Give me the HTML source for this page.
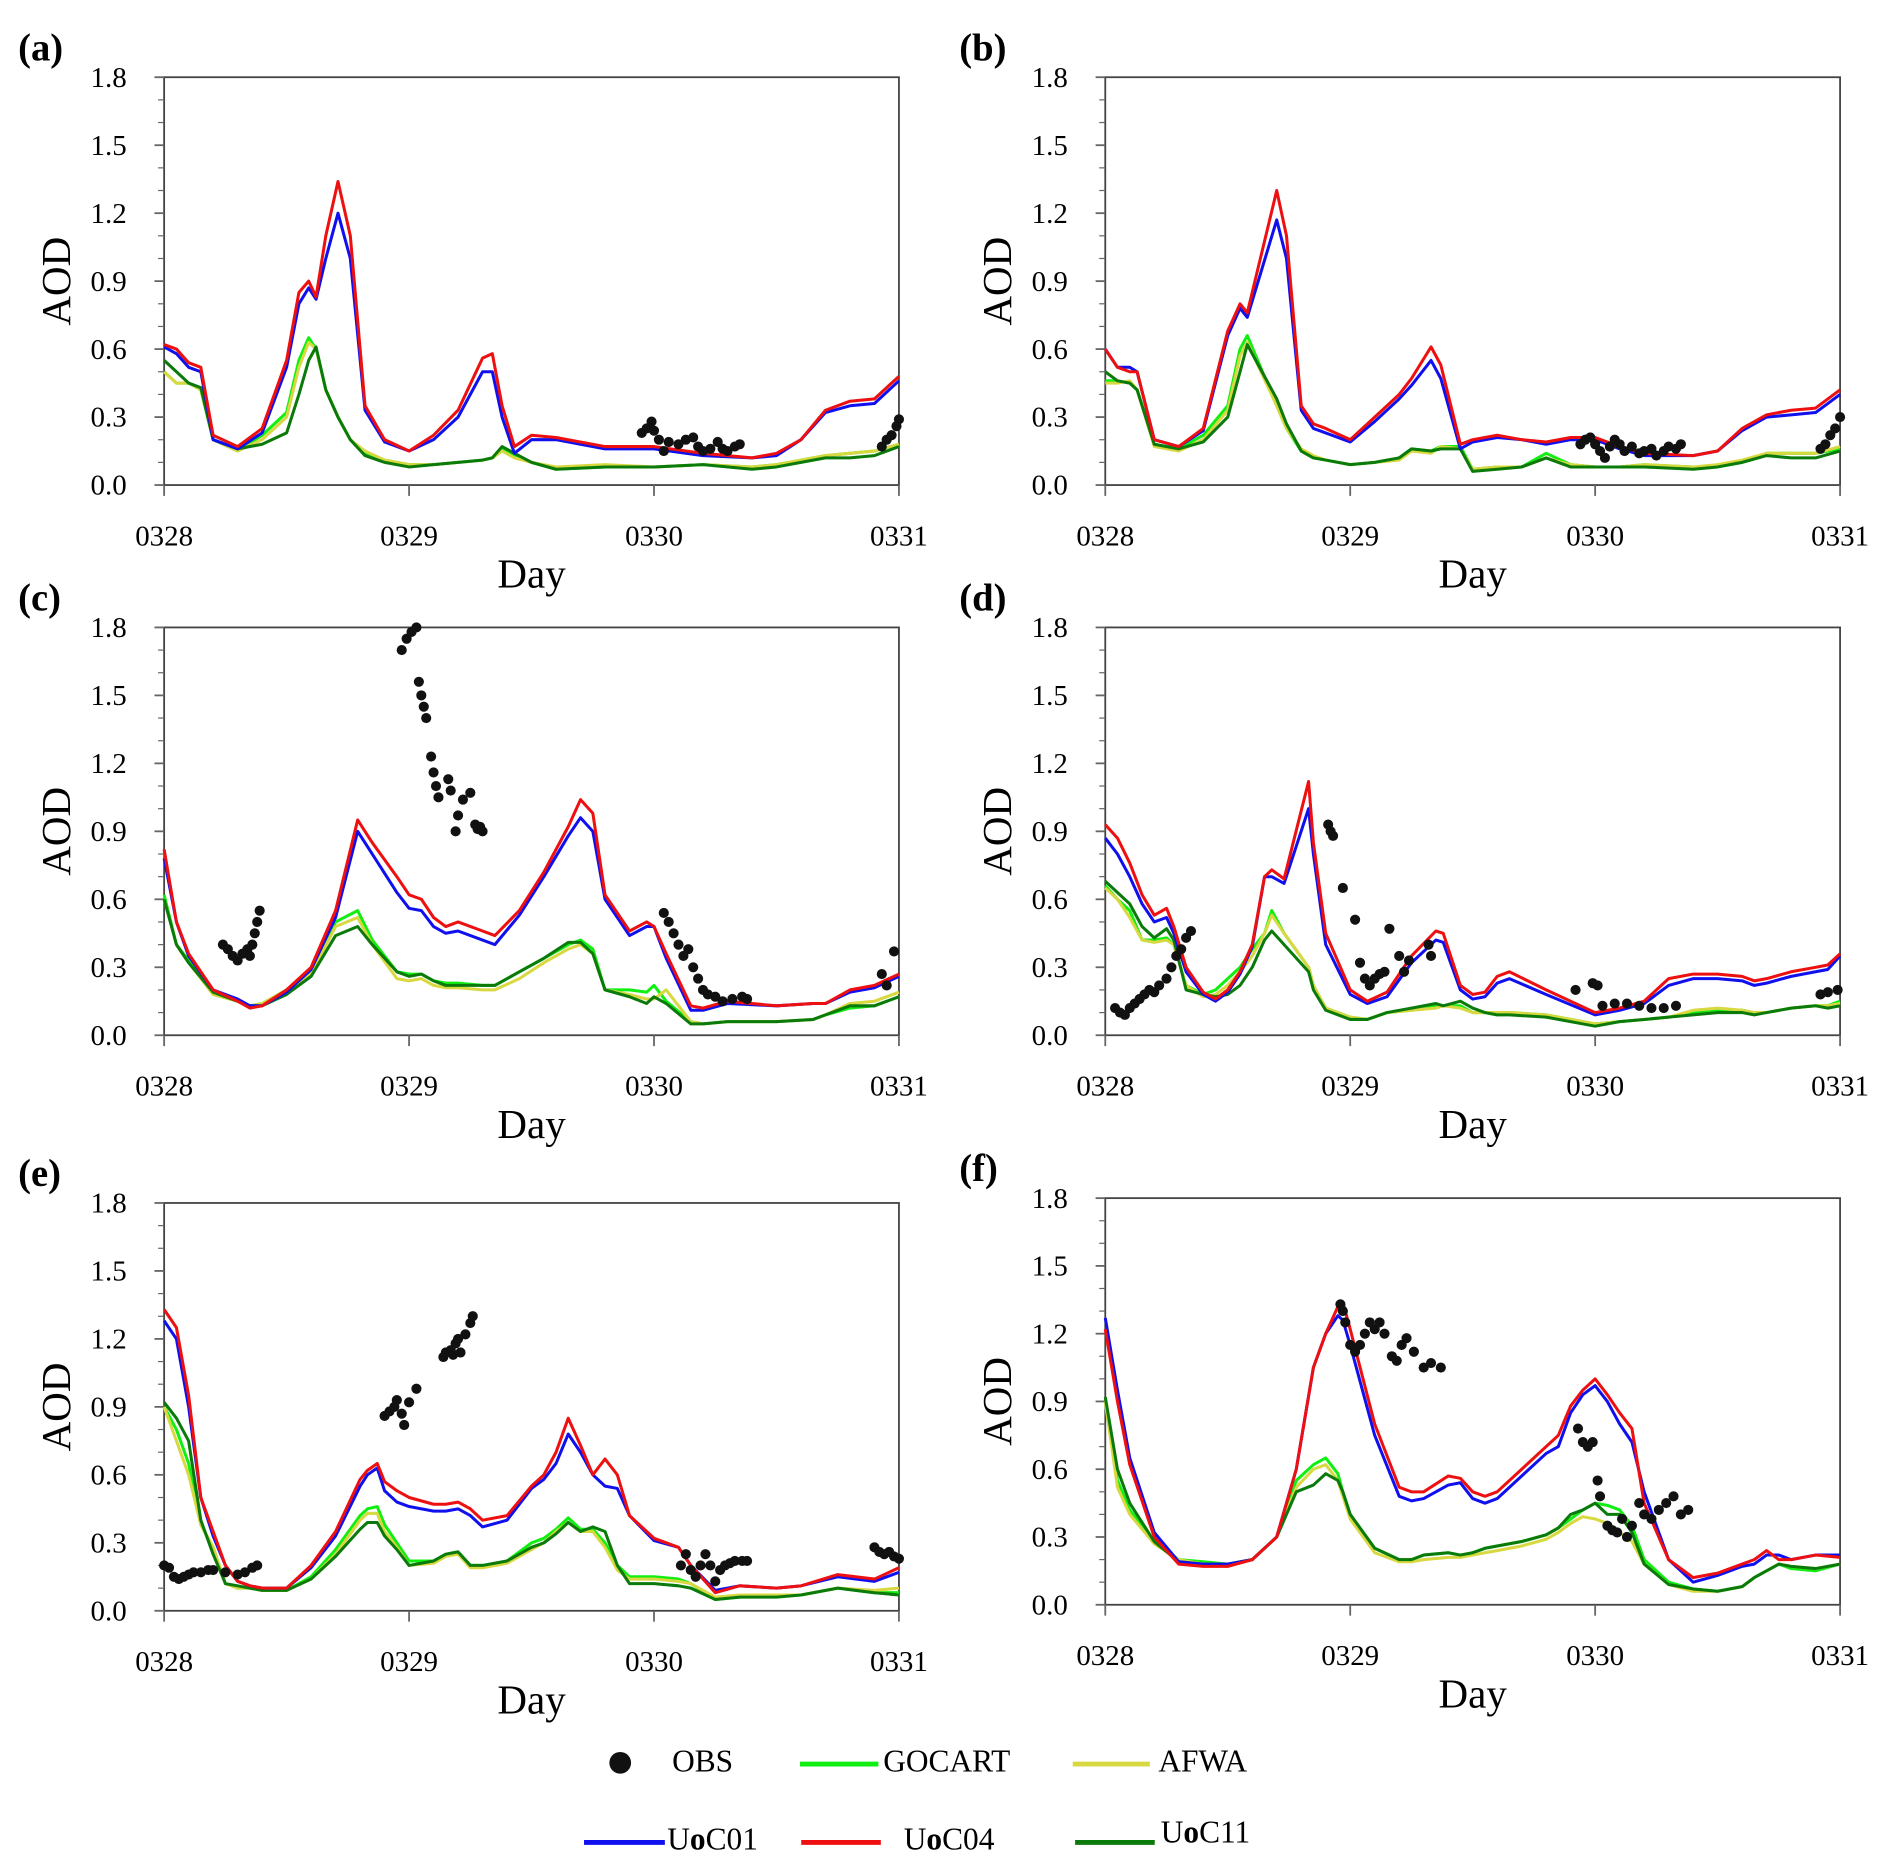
<!DOCTYPE html>
<html><head><meta charset="utf-8"><style>
html,body{margin:0;padding:0;background:#fff}
svg{display:block}
text{font-family:"Liberation Serif","DejaVu Serif",serif;fill:#000}
</style></head><body>
<svg id="fig" width="1892" height="1869" viewBox="0 0 1568 1549" xmlns="http://www.w3.org/2000/svg">
<g id="panels"></g>
<g id="legend">
  <circle cx="514" cy="1461" r="9" fill="#111"/>
  <text x="557" y="1468" font-size="26">OBS</text>
  <line x1="663" y1="1462" x2="728" y2="1462" stroke="#11ee11" stroke-width="4"/>
  <text x="732" y="1468" font-size="26">GOCART</text>
  <line x1="889" y1="1462" x2="953" y2="1462" stroke="#d8d840" stroke-width="4"/>
  <text x="960" y="1468" font-size="26">AFWA</text>
  <line x1="484" y1="1527" x2="551" y2="1527" stroke="#1010ee" stroke-width="4"/>
  <text x="553" y="1533" font-size="26">U<tspan font-weight="bold">o</tspan>C01</text>
  <line x1="664" y1="1527" x2="730" y2="1527" stroke="#ee1010" stroke-width="4"/>
  <text x="749" y="1533" font-size="26">U<tspan font-weight="bold">o</tspan>C04</text>
  <line x1="891" y1="1527" x2="957" y2="1527" stroke="#0a7a0a" stroke-width="4"/>
  <text x="962" y="1527" font-size="26">U<tspan font-weight="bold">o</tspan>C11</text>
</g>
</svg>
<script>
const yTicks=[0,0.3,0.6,0.9,1.2,1.5,1.8];
const yTickLabels=["0.0","0.3","0.6","0.9","1.2","1.5","1.8"];
const xTicks=[0,1,2,3];
const xTickLabels=["0328","0329","0330","0331"];
const panelLabels=["(a)","(b)","(c)","(d)","(e)","(f)"];

const tA=[0,.05,.1,.15,.2,.3,.4,.5,.55,.59,.62,.66,.71,.76,.82,.9,1.0,1.1,1.2,1.3,1.34,1.38,1.43,1.5,1.6,1.8,2.0,2.2,2.4,2.5,2.6,2.7,2.8,2.9,3.0];
const uoc04A=[.62,.6,.54,.52,.22,.17,.25,.55,.85,.9,.83,1.1,1.34,1.1,.35,.2,.15,.22,.33,.56,.58,.35,.17,.22,.21,.17,.17,.14,.12,.14,.2,.33,.37,.38,.48];
const uoc01A=[.61,.58,.52,.5,.2,.16,.23,.52,.8,.87,.82,1.0,1.2,1.0,.33,.19,.15,.2,.3,.5,.5,.3,.14,.2,.2,.16,.16,.13,.12,.13,.2,.32,.35,.36,.46];
const gocartA=[.5,.45,.45,.42,.2,.15,.22,.32,.55,.65,.6,.42,.3,.2,.14,.11,.09,.09,.1,.11,.12,.16,.13,.1,.07,.08,.08,.09,.08,.09,.11,.13,.14,.15,.18];
const afwaA=[.5,.45,.45,.42,.2,.15,.2,.3,.52,.63,.6,.42,.3,.2,.15,.11,.09,.09,.1,.11,.12,.15,.12,.1,.08,.09,.08,.09,.08,.09,.11,.13,.14,.15,.18];
const uoc11A=[.55,.5,.45,.43,.2,.16,.18,.23,.4,.55,.61,.42,.3,.2,.13,.1,.08,.09,.1,.11,.12,.17,.14,.1,.07,.08,.08,.09,.07,.08,.1,.12,.12,.13,.17];
const obsTA=[1.95,1.97,1.99,2.0,2.02,2.04,2.06,2.1,2.13,2.16,2.18,2.2,2.23,2.26,2.28,2.3,2.33,2.35,2.93,2.95,2.97,2.99,3.0];
const obsVA=[.23,.25,.28,.24,.2,.15,.19,.18,.2,.21,.17,.15,.16,.19,.16,.15,.17,.18,.17,.2,.22,.26,.29];

const tB=[0,.05,.1,.13,.2,.3,.4,.5,.55,.58,.7,.74,.8,.85,.9,1.0,1.1,1.2,1.25,1.33,1.37,1.45,1.5,1.6,1.7,1.8,1.9,2.0,2.1,2.2,2.4,2.5,2.6,2.7,2.8,2.9,3.0];
const uoc04B=[.6,.52,.5,.5,.2,.17,.25,.68,.8,.76,1.3,1.1,.35,.27,.25,.2,.3,.4,.47,.61,.53,.18,.2,.22,.2,.19,.21,.21,.17,.14,.13,.15,.25,.31,.33,.34,.42];
const uoc01B=[.6,.52,.52,.5,.2,.17,.24,.66,.78,.74,1.17,1.0,.33,.25,.23,.19,.28,.38,.44,.55,.47,.16,.19,.21,.2,.18,.2,.2,.16,.13,.13,.15,.24,.3,.31,.32,.4];
const gocartB=[.46,.46,.45,.42,.18,.16,.22,.35,.6,.66,.35,.25,.15,.12,.11,.09,.1,.12,.16,.15,.17,.17,.07,.08,.08,.14,.09,.08,.08,.09,.08,.08,.1,.14,.14,.14,.16];
const afwaB=[.45,.45,.46,.42,.17,.15,.2,.33,.57,.63,.35,.25,.16,.13,.11,.09,.1,.11,.15,.14,.17,.16,.07,.08,.08,.12,.09,.08,.08,.09,.08,.09,.11,.14,.14,.14,.17];
const uoc11B=[.5,.46,.45,.42,.18,.16,.19,.3,.5,.62,.38,.27,.15,.12,.11,.09,.1,.12,.16,.15,.16,.16,.06,.07,.08,.12,.08,.08,.08,.08,.07,.08,.1,.13,.12,.12,.15];
const obsTB=[1.94,1.96,1.98,2.0,2.02,2.04,2.06,2.08,2.1,2.12,2.15,2.18,2.2,2.23,2.25,2.28,2.3,2.33,2.35,2.92,2.94,2.96,2.98,3.0];
const obsVB=[.18,.2,.21,.18,.15,.12,.17,.2,.18,.15,.17,.14,.15,.16,.13,.15,.17,.16,.18,.16,.18,.22,.25,.3];

const tC=[0,.05,.1,.2,.3,.35,.4,.5,.6,.7,.79,.85,.95,1.0,1.05,1.1,1.15,1.2,1.3,1.35,1.45,1.55,1.65,1.7,1.75,1.8,1.9,1.97,2.0,2.05,2.15,2.2,2.3,2.5,2.65,2.7,2.8,2.9,3.0];
const uoc04C=[.82,.5,.36,.2,.15,.12,.13,.2,.3,.55,.95,.85,.7,.62,.6,.52,.48,.5,.46,.44,.55,.72,.92,1.04,.98,.62,.46,.5,.48,.36,.13,.12,.15,.13,.14,.14,.2,.22,.27];
const uoc01C=[.78,.5,.35,.2,.16,.13,.13,.19,.29,.52,.9,.8,.63,.56,.55,.48,.45,.46,.42,.4,.53,.7,.88,.96,.9,.6,.44,.48,.48,.34,.11,.11,.14,.13,.14,.14,.19,.21,.26];
const gocartC=[.62,.4,.33,.18,.15,.13,.14,.2,.28,.5,.55,.42,.28,.27,.27,.24,.23,.23,.22,.22,.28,.34,.4,.42,.38,.2,.2,.19,.22,.15,.06,.05,.06,.06,.07,.09,.12,.13,.17];
const afwaC=[.6,.4,.32,.18,.15,.13,.14,.2,.27,.48,.52,.4,.25,.24,.25,.22,.21,.21,.2,.2,.25,.32,.38,.4,.36,.2,.18,.16,.16,.2,.06,.05,.06,.06,.07,.09,.14,.15,.19];
const uoc11C=[.6,.4,.32,.19,.15,.13,.13,.18,.26,.44,.48,.4,.28,.26,.27,.24,.22,.22,.22,.22,.28,.34,.41,.41,.36,.2,.17,.14,.17,.14,.05,.05,.06,.06,.07,.09,.13,.13,.17];
const obsTC=[.24,.26,.28,.3,.32,.34,.35,.36,.37,.38,.39,.97,.99,1.01,1.03,1.04,1.05,1.06,1.07,1.09,1.1,1.11,1.12,1.16,1.17,1.19,1.2,1.22,1.25,1.27,1.28,1.29,1.3,2.04,2.06,2.08,2.1,2.12,2.14,2.16,2.18,2.2,2.22,2.25,2.28,2.32,2.36,2.38,2.93,2.95,2.98];
const obsVC=[.4,.38,.35,.33,.36,.38,.35,.4,.45,.5,.55,1.7,1.75,1.78,1.8,1.56,1.5,1.45,1.4,1.23,1.16,1.1,1.05,1.13,1.08,.9,.97,1.04,1.07,.93,.91,.92,.9,.54,.5,.45,.4,.35,.38,.3,.25,.2,.18,.17,.15,.16,.17,.16,.27,.22,.37];

const tD=[0,.05,.1,.15,.2,.25,.28,.33,.4,.45,.5,.55,.6,.65,.68,.73,.83,.85,.9,1.0,1.07,1.15,1.25,1.35,1.38,1.45,1.5,1.55,1.6,1.65,1.8,2.0,2.1,2.2,2.3,2.4,2.5,2.6,2.65,2.7,2.8,2.9,2.95,3.0];
const uoc04D=[.93,.87,.76,.62,.53,.56,.48,.3,.19,.16,.2,.28,.4,.7,.73,.69,1.12,.85,.45,.2,.15,.19,.35,.46,.45,.22,.18,.19,.26,.28,.2,.1,.12,.15,.25,.27,.27,.26,.24,.25,.28,.3,.31,.36];
const uoc01D=[.87,.8,.7,.58,.5,.52,.45,.28,.18,.15,.19,.27,.39,.7,.7,.67,1.0,.8,.4,.18,.14,.17,.32,.42,.41,.2,.16,.17,.23,.25,.18,.09,.11,.14,.22,.25,.25,.24,.22,.23,.26,.28,.29,.35];
const gocartD=[.66,.6,.55,.42,.42,.43,.4,.22,.18,.2,.25,.3,.38,.45,.55,.45,.3,.22,.12,.08,.07,.1,.11,.13,.13,.13,.1,.1,.09,.1,.09,.05,.06,.07,.08,.1,.11,.11,.1,.1,.12,.13,.13,.15];
const afwaD=[.65,.6,.52,.42,.41,.42,.4,.22,.17,.18,.22,.28,.35,.45,.53,.45,.3,.22,.12,.08,.07,.1,.11,.12,.13,.12,.1,.1,.1,.1,.09,.05,.06,.07,.08,.11,.12,.11,.1,.1,.12,.13,.13,.14];
const uoc11D=[.68,.63,.58,.48,.43,.47,.42,.2,.18,.17,.18,.22,.3,.42,.46,.4,.28,.2,.11,.07,.07,.1,.12,.14,.13,.15,.12,.1,.09,.09,.08,.04,.06,.07,.08,.09,.1,.1,.09,.1,.12,.13,.12,.13];
const obsTD=[.04,.06,.08,.1,.12,.14,.16,.18,.2,.22,.25,.27,.29,.31,.33,.35,.91,.92,.93,.97,1.02,1.04,1.06,1.08,1.1,1.12,1.14,1.16,1.2,1.22,1.24,1.32,1.33,1.92,1.99,2.01,2.03,2.08,2.13,2.18,2.23,2.28,2.33,2.92,2.95,2.99];
const obsVD=[.12,.1,.09,.12,.14,.16,.18,.2,.19,.22,.25,.3,.35,.38,.43,.46,.93,.9,.88,.65,.51,.32,.25,.22,.25,.27,.28,.47,.35,.28,.33,.4,.35,.2,.23,.22,.13,.14,.14,.13,.12,.12,.13,.18,.19,.2];

const tE=[0,.05,.1,.15,.2,.25,.3,.35,.4,.5,.6,.7,.8,.83,.87,.9,.95,1.0,1.1,1.15,1.2,1.25,1.3,1.4,1.5,1.55,1.6,1.65,1.7,1.75,1.8,1.85,1.9,2.0,2.1,2.15,2.25,2.35,2.5,2.6,2.75,2.9,3.0];
const uoc04E=[1.33,1.25,.95,.5,.35,.2,.13,.11,.1,.1,.2,.35,.58,.62,.65,.57,.53,.5,.47,.47,.48,.45,.4,.42,.55,.6,.7,.85,.73,.6,.67,.6,.42,.32,.28,.2,.08,.11,.1,.11,.16,.14,.19];
const uoc01E=[1.28,1.2,.9,.5,.33,.2,.13,.11,.1,.1,.19,.33,.55,.6,.63,.53,.48,.46,.44,.44,.45,.42,.37,.4,.54,.58,.65,.78,.7,.6,.55,.54,.42,.31,.28,.2,.09,.11,.1,.11,.15,.13,.17];
const gocartE=[.9,.8,.65,.38,.28,.12,.1,.1,.09,.09,.15,.27,.42,.45,.46,.38,.3,.22,.22,.25,.26,.2,.2,.22,.3,.32,.36,.41,.36,.36,.3,.2,.15,.15,.14,.12,.05,.06,.07,.07,.1,.08,.08];
const afwaE=[.9,.75,.6,.38,.28,.12,.1,.1,.09,.09,.14,.25,.4,.43,.43,.35,.28,.2,.21,.24,.25,.19,.19,.21,.27,.3,.35,.39,.35,.35,.28,.18,.14,.14,.13,.12,.06,.07,.07,.07,.1,.09,.1];
const uoc11E=[.92,.85,.75,.4,.25,.12,.11,.1,.09,.09,.14,.24,.36,.39,.39,.33,.27,.2,.22,.25,.26,.2,.2,.22,.28,.3,.34,.39,.35,.37,.35,.2,.12,.12,.11,.1,.05,.06,.06,.07,.1,.08,.07];
const obsTE=[0,.02,.04,.06,.08,.1,.12,.15,.18,.2,.25,.3,.33,.36,.38,.9,.92,.94,.95,.97,.98,1.0,1.03,1.14,1.15,1.17,1.18,1.19,1.2,1.21,1.23,1.25,1.26,2.11,2.13,2.15,2.17,2.19,2.21,2.23,2.25,2.27,2.29,2.31,2.33,2.36,2.38,2.9,2.92,2.94,2.96,2.98,3.0];
const obsVE=[.2,.19,.15,.14,.15,.16,.17,.17,.18,.18,.17,.16,.17,.19,.2,.86,.88,.9,.93,.87,.82,.92,.98,1.12,1.14,1.15,1.13,1.18,1.2,1.14,1.22,1.27,1.3,.2,.25,.18,.15,.2,.25,.2,.13,.18,.2,.21,.22,.22,.22,.28,.26,.25,.26,.24,.23];

const tF=[0,.05,.1,.2,.3,.4,.5,.6,.7,.78,.85,.9,.95,.97,1.0,1.1,1.2,1.25,1.3,1.4,1.45,1.5,1.55,1.6,1.7,1.8,1.85,1.9,1.95,2.0,2.05,2.1,2.15,2.2,2.3,2.4,2.5,2.6,2.65,2.7,2.75,2.8,2.9,3.0];
const uoc04F=[1.22,.9,.62,.3,.18,.17,.17,.2,.3,.6,1.05,1.2,1.32,1.34,1.22,.8,.52,.5,.5,.57,.56,.5,.48,.5,.6,.7,.75,.88,.95,1.0,.93,.85,.78,.45,.2,.12,.14,.18,.2,.24,.2,.2,.22,.21];
const uoc01F=[1.27,.95,.65,.32,.19,.18,.18,.2,.3,.6,1.05,1.2,1.28,1.26,1.15,.75,.48,.46,.47,.53,.54,.47,.45,.47,.57,.67,.7,.85,.93,.97,.9,.8,.72,.5,.2,.1,.13,.17,.18,.22,.22,.2,.22,.22];
const gocartF=[.9,.55,.42,.28,.2,.19,.18,.2,.3,.55,.62,.65,.58,.5,.4,.25,.2,.2,.22,.23,.22,.23,.25,.26,.28,.31,.34,.38,.42,.45,.44,.42,.35,.2,.1,.07,.06,.08,.12,.15,.18,.16,.15,.18];
const afwaF=[.9,.52,.4,.27,.2,.18,.18,.2,.3,.52,.6,.62,.55,.48,.38,.23,.19,.19,.2,.21,.21,.22,.23,.24,.26,.29,.32,.36,.39,.38,.36,.32,.28,.18,.09,.06,.06,.08,.12,.15,.18,.17,.16,.18];
const uoc11F=[.92,.6,.45,.28,.19,.18,.18,.2,.3,.5,.53,.58,.55,.5,.4,.25,.2,.2,.22,.23,.22,.23,.25,.26,.28,.31,.34,.4,.42,.45,.4,.4,.32,.18,.09,.07,.06,.08,.12,.15,.18,.17,.16,.18];
const obsTF=[.96,.97,.98,1.0,1.02,1.04,1.06,1.08,1.1,1.12,1.14,1.17,1.19,1.21,1.23,1.26,1.3,1.33,1.37,1.93,1.95,1.97,1.99,2.01,2.02,2.05,2.07,2.09,2.11,2.13,2.15,2.18,2.2,2.23,2.26,2.29,2.32,2.35,2.38];
const obsVF=[1.33,1.3,1.25,1.15,1.12,1.15,1.2,1.25,1.22,1.25,1.2,1.1,1.08,1.15,1.18,1.12,1.05,1.07,1.05,.78,.72,.7,.72,.55,.48,.35,.33,.32,.38,.3,.35,.45,.4,.38,.42,.45,.48,.4,.42];

const panels=[
 {id:"a",x0:136,x1:745,y0:64,y1:402,t:tA,s:[gocartA,afwaA,uoc11A,uoc01A,uoc04A],ot:obsTA,ov:obsVA},
 {id:"b",x0:916,x1:1525,y0:64,y1:402,t:tB,s:[gocartB,afwaB,uoc11B,uoc01B,uoc04B],ot:obsTB,ov:obsVB},
 {id:"c",x0:136,x1:745,y0:520,y1:858,t:tC,s:[gocartC,afwaC,uoc11C,uoc01C,uoc04C],ot:obsTC,ov:obsVC},
 {id:"d",x0:916,x1:1525,y0:520,y1:858,t:tD,s:[gocartD,afwaD,uoc11D,uoc01D,uoc04D],ot:obsTD,ov:obsVD},
 {id:"e",x0:136,x1:745,y0:997,y1:1335,t:tE,s:[gocartE,afwaE,uoc11E,uoc01E,uoc04E],ot:obsTE,ov:obsVE},
 {id:"f",x0:916,x1:1525,y0:993,y1:1330,t:tF,s:[gocartF,afwaF,uoc11F,uoc01F,uoc04F],ot:obsTF,ov:obsVF}
];
const seriesNames=["gocart","afwa","uoc11","uoc01","uoc04"];
const seriesColors=["#11ee11","#d8d840","#0a7a0a","#1010ee","#ee1010"];

const NS="http://www.w3.org/2000/svg";
const root=document.getElementById("panels");
function mk(tag,attrs,parent){const e=document.createElementNS(NS,tag);for(const k in attrs)e.setAttribute(k,attrs[k]);parent.appendChild(e);return e;}

panels.forEach((p,pi)=>{
  const g=mk("g",{},root);
  
  
  const xs=t=>p.x0+(t/3)*(p.x1-p.x0);
  const ys=v=>p.y1-(v/1.8)*(p.y1-p.y0);
  const fr=mk("rect",{x:p.x0,y:p.y0,width:p.x1-p.x0,height:p.y1-p.y0,fill:"none",stroke:"#444","stroke-width":1.5},g);
  
  
  for(let k=0;k<=18;k++){
    const v=k/10, y=ys(v), major=(k%3===0);
    const tk=mk("line",{x1:p.x0-(major?8:5),x2:p.x0,y1:y,y2:y,stroke:"#666","stroke-width":major?1.5:1},g);
    
    
  }
  yTicks.forEach((v,i)=>{
    const tx=mk("text",{x:p.x0-31,y:ys(v)+8,"font-size":24,"text-anchor":"end"},g);
    tx.textContent=yTickLabels[i];
    
    
  });
  xTicks.forEach((d,i)=>{
    const x=xs(d);
    const tk=mk("line",{x1:x,x2:x,y1:p.y1,y2:p.y1+9,stroke:"#666","stroke-width":1.5},g);
    
    
    const tx=mk("text",{x:x,y:p.y1+50,"font-size":24,"text-anchor":"middle"},g);
    tx.textContent=xTickLabels[i];
    
    
  });
  const xt=mk("text",{x:(p.x0+p.x1)/2,y:p.y1+85,"font-size":34,"text-anchor":"middle"},g);
  xt.textContent="Day";
  
  
  const cy=(p.y0+p.y1)/2;
  const yt=mk("text",{x:p.x0-78,y:cy,"font-size":34,"text-anchor":"middle",transform:"rotate(-90 "+(p.x0-78)+" "+cy+")"},g);
  yt.textContent="AOD";
  
  
  const pl=mk("text",{x:p.x0-121,y:p.y0-14,"font-size":32,"font-weight":"bold"},g);
  pl.textContent=panelLabels[pi];
  
  
  p.s.forEach((vals,si)=>{
    const pts=vals.map((v,i)=>xs(p.t[i]).toFixed(1)+","+ys(v).toFixed(1)).join(" ");
    const ln=mk("polyline",{points:pts,fill:"none",stroke:seriesColors[si],"stroke-width":2.5,"stroke-linejoin":"round"},g);
    
    
  });
  p.ot.forEach((t,i)=>{
    const c=mk("circle",{cx:xs(t),cy:ys(p.ov[i]),r:4.2,fill:"#111"},g);
    
    
  });
});
</script>
</body></html>
